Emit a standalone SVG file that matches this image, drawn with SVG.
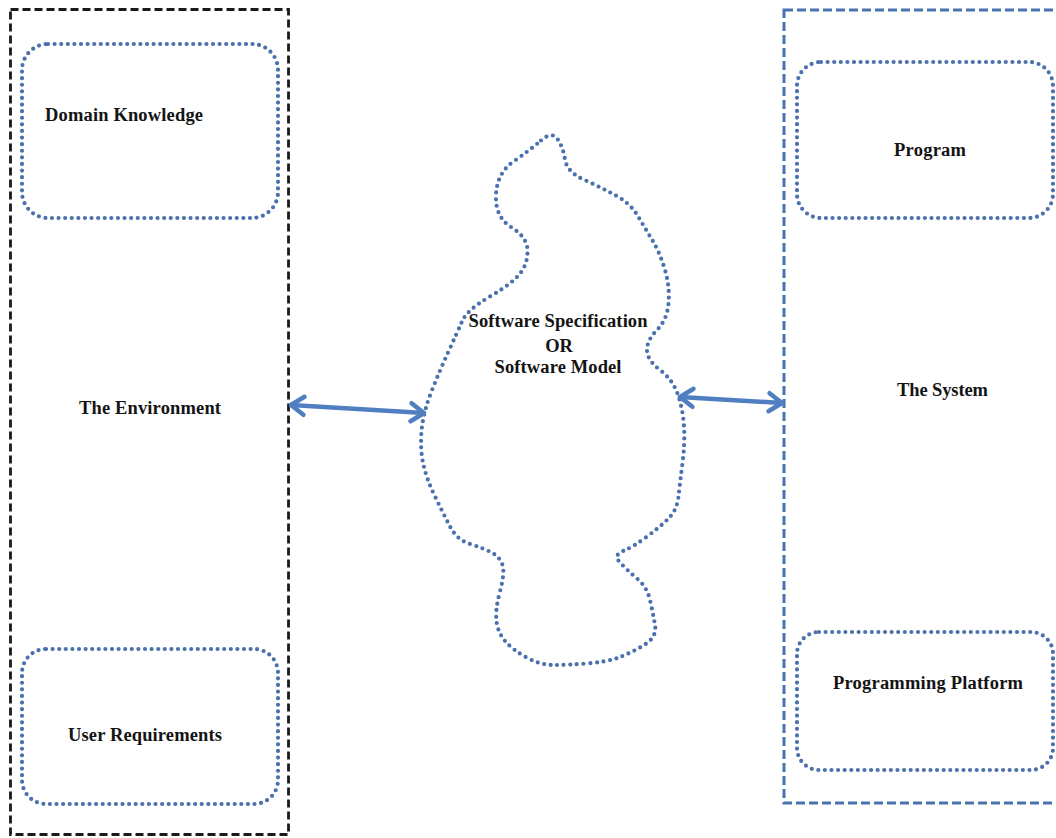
<svg xmlns="http://www.w3.org/2000/svg" width="1056" height="838" viewBox="0 0 1056 838">
  <style>
    .env-frame { fill: none; stroke: #1a1a1a; stroke-width: 2.8; stroke-dasharray: 8 4; }
    .sys-frame { fill: none; stroke: #4a72b0; stroke-width: 3; stroke-dasharray: 9 4; }
    .dotted { fill: none; stroke: #4a70ad; stroke-width: 4.2; stroke-linecap: round; stroke-dasharray: 0 6.6; }
    .label { font-family: "Liberation Serif", "Times New Roman", serif; font-weight: bold; font-size: 18.5px; fill: #141414; }
    .mid { text-anchor: middle; }
    .link { fill: none; stroke: #4f7fc0; stroke-width: 4.5; stroke-linecap: round; }
  </style>
  <defs>
    <marker id="chevron" viewBox="-16 -12 20 24" markerWidth="20" markerHeight="24" refX="0" refY="0" markerUnits="userSpaceOnUse" orient="auto-start-reverse">
      <path d="M-13,-9 L0,0 L-13,9" fill="none" stroke="#4f7fc0" stroke-width="4.5" stroke-linecap="round" stroke-linejoin="round"/>
    </marker>
  </defs>
  <rect width="1056" height="838" fill="#ffffff"/>

  <!-- Environment side -->
  <g id="environment">
    <rect class="env-frame" x="10.5" y="9.5" width="278" height="825"/>
    <text class="label" x="79" y="414" textLength="142" lengthAdjust="spacing">The Environment</text>
  </g>
  <g id="domain-knowledge">
    <rect class="dotted" x="22" y="44" width="256" height="174" rx="26" ry="26"/>
    <text class="label" x="45" y="121" textLength="158" lengthAdjust="spacing">Domain Knowledge</text>
  </g>
  <g id="user-requirements">
    <rect class="dotted" x="22" y="649" width="256" height="155" rx="24" ry="24"/>
    <text class="label" x="68" y="741" textLength="154" lengthAdjust="spacing">User Requirements</text>
  </g>

  <!-- System side -->
  <g id="system">
    <rect class="sys-frame" x="784" y="10" width="290" height="793"/>
    <text class="label" x="897" y="396" textLength="91" lengthAdjust="spacing">The System</text>
  </g>
  <g id="program">
    <rect class="dotted" x="797" y="62" width="256" height="156" rx="24" ry="24"/>
    <text class="label" x="894" y="156" textLength="72" lengthAdjust="spacing">Program</text>
  </g>
  <g id="programming-platform">
    <rect class="dotted" x="797" y="632" width="256" height="138" rx="22" ry="22"/>
    <text class="label" x="833" y="689" textLength="190" lengthAdjust="spacing">Programming Platform</text>
  </g>

  <!-- Specification / model cloud -->
  <g id="software-specification">
    <path class="dotted" d="M541,140.5 Q552,131 557.5,139 Q563,147 565,159.5 Q567,172 583.5,179.5 Q600,187 615,195 Q630,203 637.5,215.5 Q645,228 652.5,240.5 Q660,253 665,270 Q670,287 668.5,303.5 Q667,320 657,330 Q647,340 647,350 Q647,360 660,370 Q673,380 678,395 Q683,410 684,426.5 Q685,443 682.5,463 Q680,483 678.5,496.5 Q677,510 668.5,518.5 Q660,527 646.5,537 Q633,547 623,551 Q613,555 620,562.5 Q627,570 637,578.5 Q647,587 650,600 Q653,613 655,625 Q657,637 645,644.5 Q633,652 620,657 Q607,662 587,663.5 Q567,665 553.5,665 Q540,665 526.5,657.5 Q513,650 505.5,641.5 Q498,633 496.5,621.5 Q495,610 500,591.5 Q505,573 502.5,565 Q500,557 491.5,552.5 Q483,548 470,544 Q457,540 450,526.5 Q443,513 435,496.5 Q427,480 423.5,465 Q420,450 421.5,431.5 Q423,413 431.5,391.5 Q440,370 448.5,351.5 Q457,333 462,321.5 Q467,310 490,296.5 Q513,283 520.5,273 Q528,263 527.5,250 Q527,237 511,227 Q495,217 496,195 Q497,173 513.5,161.5 Q530,150 541,140.5 Z"/>
    <text class="label mid" x="558" y="327" textLength="179" lengthAdjust="spacing">Software Specification</text>
    <text class="label mid" x="559" y="352">OR</text>
    <text class="label mid" x="558" y="373" textLength="127" lengthAdjust="spacing">Software Model</text>
  </g>

  <!-- Connectors -->
  <g id="connectors">
    <line class="link" x1="291" y1="405" x2="424" y2="413" marker-start="url(#chevron)" marker-end="url(#chevron)"/>
    <line class="link" x1="680" y1="397" x2="782" y2="403" marker-start="url(#chevron)" marker-end="url(#chevron)"/>
  </g>
</svg>
